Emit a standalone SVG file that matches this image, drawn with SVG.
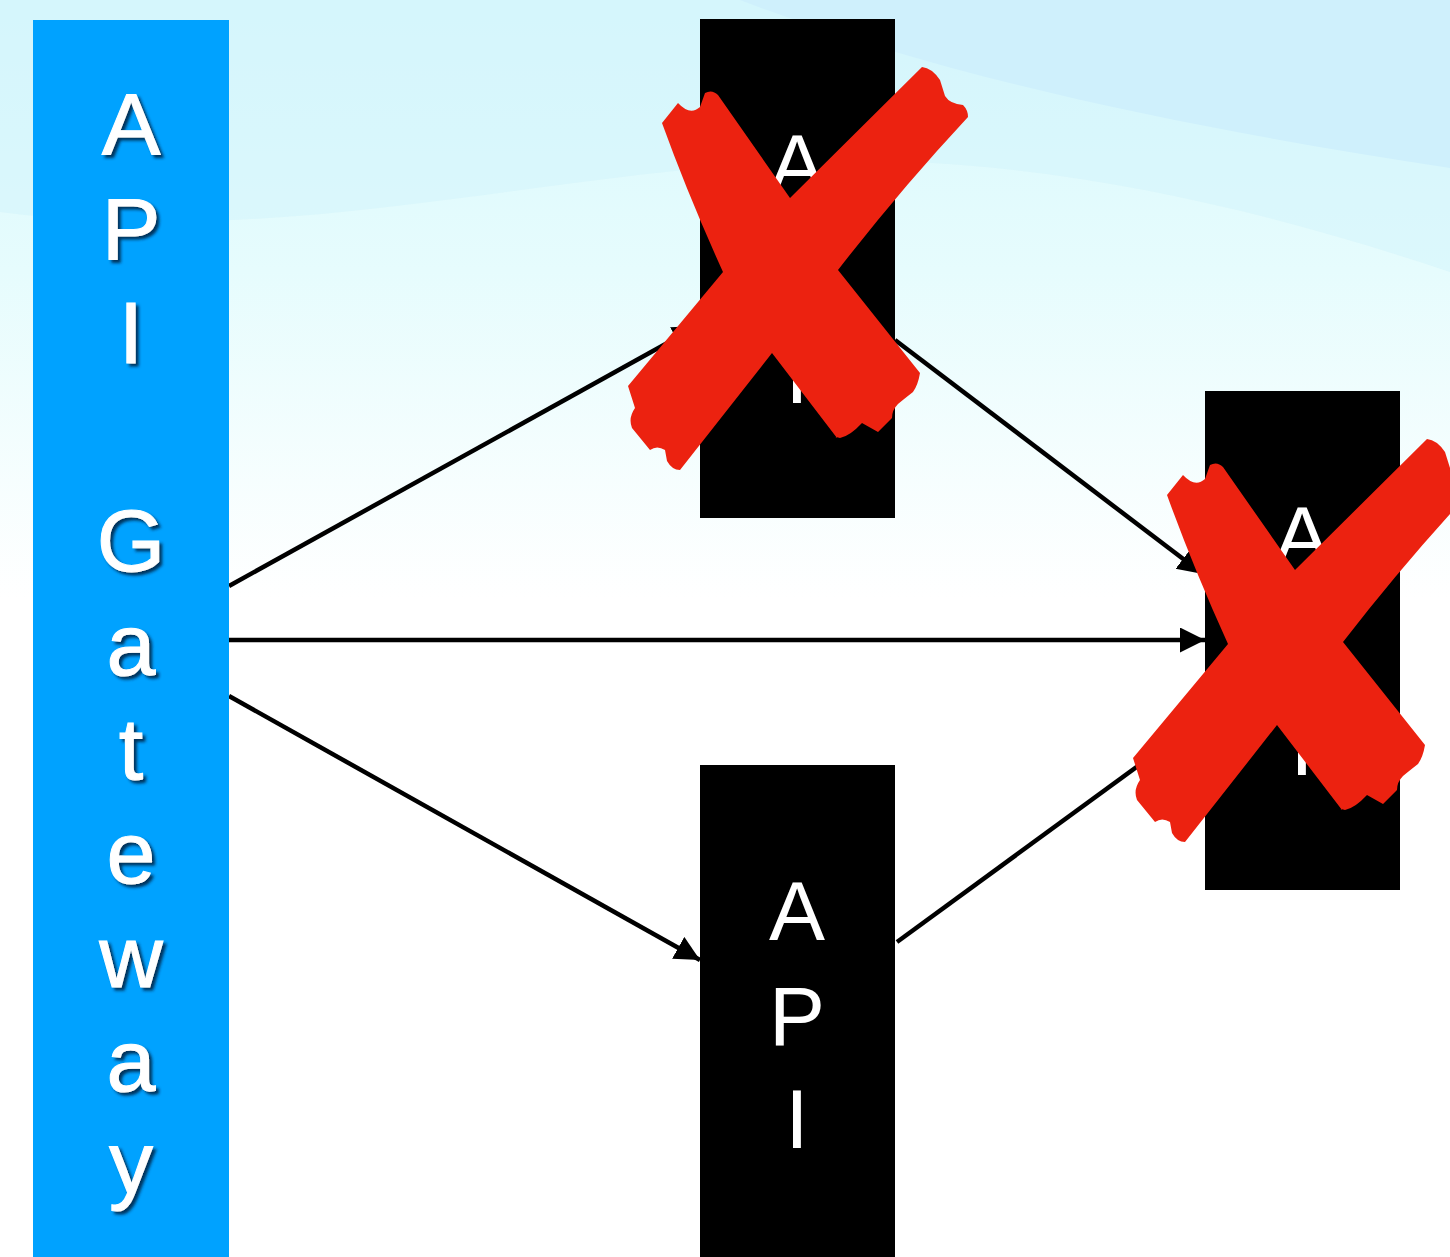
<svg xmlns="http://www.w3.org/2000/svg" xmlns:xlink="http://www.w3.org/1999/xlink" width="1450" height="1257" viewBox="0 0 1450 1257">
<style>
.gw { font-family: "Liberation Sans", Arial, sans-serif; font-size: 88px; fill: #ffffff; text-anchor: middle; stroke: #ffffff; stroke-width: 1; }
.api { font-family: "Liberation Sans", Arial, sans-serif; font-size: 84px; fill: #ffffff; text-anchor: middle; }
.conn { stroke: #000000; stroke-width: 4.5; fill: none; marker-end: url(#arrow); }
.box { fill: #000000; }
.cross { fill: #ec2210; }
</style>
<defs>
<linearGradient id="bg" x1="0" y1="0" x2="0" y2="1">
<stop offset="0" stop-color="#d8f8fd"/>
<stop offset="0.45" stop-color="#e6fcfd"/>
<stop offset="1" stop-color="#ffffff"/>
</linearGradient>
<filter id="shadow" x="-30%" y="-30%" width="160%" height="160%">
<feDropShadow dx="3" dy="3" stdDeviation="1.5" flood-color="#002040" flood-opacity="0.85"/>
</filter>
<marker id="arrow" markerUnits="userSpaceOnUse" markerWidth="26" markerHeight="26" refX="25" refY="12.5" orient="auto">
<path d="M0,0 L25,12.5 L0,25 Z" fill="#000000"/>
</marker>
<path id="xmark" d="M662,123 L678,103 Q690,116 700,107 L705,93 Q712,89 718,95 L790,198 L922,67 Q932,68 940,80 L945,96 Q950,104 963,105 Q968,110 968,117 Q900,190 838,270 L920,373 Q918,385 913,392 Q904,399 898,404 Q892,410 892,418 L878,432 L862,423 Q850,436 840,438 Q833,436 837,438 L772,353 L680,470 Q672,470 667,461 L665,450 Q657,445 650,450 L632,428 Q628,418 635,408 L628,386 L723,272 Q688,195 662,123 Z"/>
</defs>

<g id="background">
<rect x="0" y="0" width="1450" height="1257" fill="#ffffff"/>
<rect x="0" y="0" width="1450" height="600" fill="url(#bg)"/>
<path d="M0,0 L1450,0 L1450,272 C1250,205 1050,160 840,160 C560,165 300,250 0,212 Z" fill="#d2f3fc" opacity="0.5"/>
<path d="M740,0 C950,80 1200,130 1450,168 L1450,0 Z" fill="#cff0fc"/>
</g>

<g id="connectors">
<line class="conn" x1="229" y1="586" x2="698" y2="326"/>
<line class="conn" x1="229" y1="640" x2="1205" y2="640"/>
<line class="conn" x1="229" y1="696" x2="700" y2="960"/>
<line class="conn" x1="895" y1="340" x2="1203" y2="574"/>
<line class="conn" x1="897" y1="942" x2="1205" y2="717"/>
</g>

<g id="gateway">
<rect x="33" y="20" width="196" height="1237" fill="#00a2ff"/>
<text class="gw" filter="url(#shadow)"><tspan x="131" y="155">A</tspan><tspan x="131" y="259">P</tspan><tspan x="131" y="363">I</tspan><tspan x="131" y="571">G</tspan><tspan x="131" y="675">a</tspan><tspan x="131" y="779">t</tspan><tspan x="131" y="883">e</tspan><tspan x="131" y="987">w</tspan><tspan x="131" y="1091">a</tspan><tspan x="131" y="1193">y</tspan></text>
</g>

<g id="api1">
<rect class="box" x="700" y="19" width="195" height="499"/>
<text class="api"><tspan x="797" y="193">A</tspan><tspan x="797" y="298">P</tspan><tspan x="797" y="403">I</tspan></text>
</g>

<g id="api2">
<rect class="box" x="1205" y="391" width="195" height="499"/>
<text class="api"><tspan x="1302" y="565">A</tspan><tspan x="1302" y="670">P</tspan><tspan x="1302" y="775">I</tspan></text>
</g>

<g id="api3">
<rect class="box" x="700" y="765" width="195" height="492"/>
<text class="api"><tspan x="797" y="940">A</tspan><tspan x="797" y="1045">P</tspan><tspan x="797" y="1148">I</tspan></text>
</g>

<g id="cross1">
<use xlink:href="#xmark" class="cross"/>
</g>
<g id="cross2">
<use xlink:href="#xmark" class="cross" transform="translate(505,372)"/>
</g>
</svg>
